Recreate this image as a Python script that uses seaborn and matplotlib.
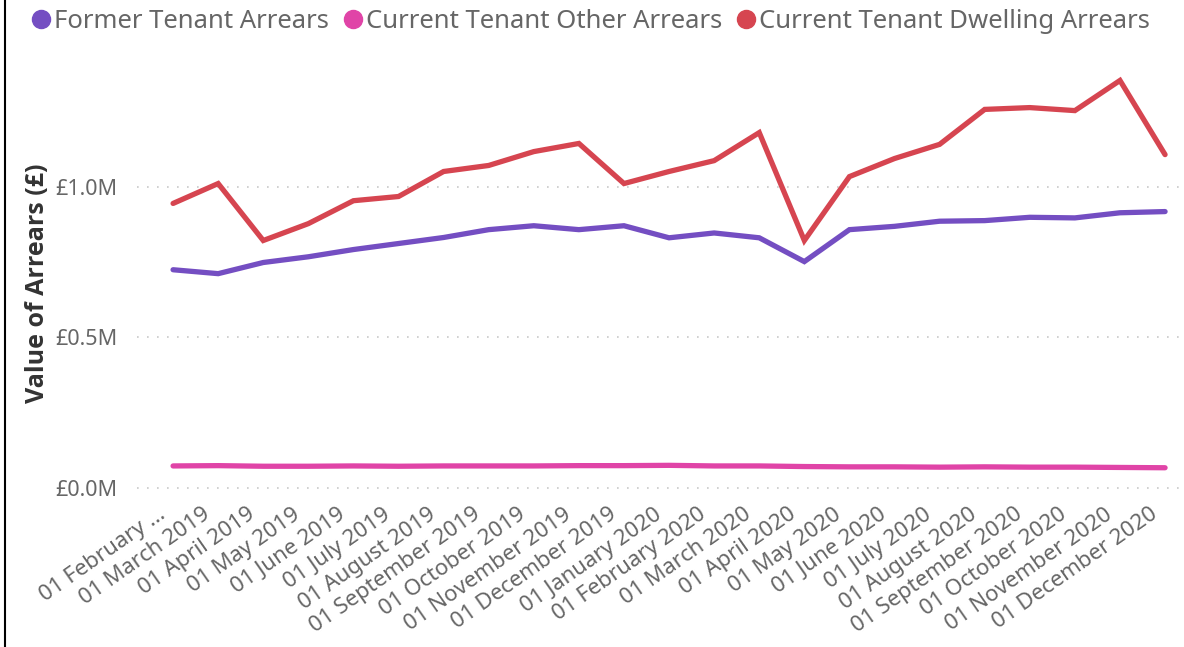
import numpy as np
import pandas as pd
import matplotlib
matplotlib.use("Agg")
import matplotlib.pyplot as plt
import matplotlib.transforms as mtransforms
from matplotlib.lines import Line2D
import seaborn as sns

months = ["01 February …", "01 March 2019", "01 April 2019", "01 May 2019", "01 June 2019",
          "01 July 2019", "01 August 2019", "01 September 2019", "01 October 2019",
          "01 November 2019", "01 December 2019", "01 January 2020", "01 February 2020",
          "01 March 2020", "01 April 2020", "01 May 2020", "01 June 2020", "01 July 2020",
          "01 August 2020", "01 September 2020", "01 October 2020", "01 November 2020",
          "01 December 2020"]

former = [0.724, 0.711, 0.748, 0.767, 0.791, 0.811, 0.831, 0.857, 0.870, 0.857, 0.870,
          0.830, 0.846, 0.830, 0.751, 0.857, 0.868, 0.885, 0.887, 0.898, 0.896, 0.913, 0.917]
other = [0.073, 0.074, 0.072, 0.072, 0.073, 0.072, 0.073, 0.073, 0.073, 0.074, 0.074,
         0.075, 0.073, 0.073, 0.071, 0.070, 0.070, 0.069, 0.070, 0.069, 0.069, 0.068, 0.067]
dwelling = [0.944, 1.010, 0.821, 0.877, 0.953, 0.967, 1.050, 1.070, 1.116, 1.143, 1.010,
            1.050, 1.086, 1.179, 0.821, 1.033, 1.093, 1.140, 1.256, 1.262, 1.252, 1.352, 1.106]

series_names = ["Former Tenant Arrears", "Current Tenant Other Arrears", "Current Tenant Dwelling Arrears"]
colors = ["#744EC2", "#E044A7", "#D64550"]

rows = []
for name, vals in zip(series_names, [former, other, dwelling]):
    for i, v in enumerate(vals):
        rows.append({"idx": i, "value": v, "series": name})
df = pd.DataFrame(rows)

sns.set_theme(style="white")
plt.rcParams['font.family'] = ['Noto Sans', 'DejaVu Sans']

fig = plt.figure(figsize=(11.84, 6.47), dpi=100)
ax = fig.add_axes([137/1184, 1 - 500/647, (1184 - 137)/1184, (500 - 66)/647])

sns.lineplot(data=df, x="idx", y="value", hue="series", hue_order=series_names,
             palette=colors, linewidth=3.8, ax=ax, legend=False,
             solid_capstyle="round", solid_joinstyle="miter")

ax.set_xlim(-0.8, 22.42)
ax.set_ylim(-0.04, 1.4)
ax.set_yticks([0, 0.5, 1.0])
ax.set_yticklabels(["£0.0M", "£0.5M", "£1.0M"], color="#666666", fontsize=15.5)
ax.yaxis.grid(True, linestyle=(0, (1, 5)), color="#c8c8c8", linewidth=1.2)
ax.xaxis.grid(False)
for s in ax.spines.values():
    s.set_visible(False)
ax.tick_params(axis="y", length=0, pad=14)
ax.tick_params(axis="x", length=0, pad=2)
ax.set_xticks(range(len(months)))
ax.set_xticklabels(months, rotation=35, ha="right", va="top", rotation_mode="anchor",
                   color="#666666", fontsize=16)
offset = mtransforms.ScaledTranslation(-16/100, -1/100, fig.dpi_scale_trans)
for lbl in ax.get_xticklabels():
    lbl.set_transform(lbl.get_transform() + offset)
ax.set_xlabel("")
ax.set_ylabel("Value of Arrears (£)", fontsize=18, fontweight="bold", color="#333333",
              labelpad=4, family=["Open Sans", "DejaVu Sans"])

handles = [Line2D([], [], marker="o", linestyle="", markersize=13, color=c) for c in colors]
fig.legend(handles, series_names, loc="upper left", bbox_to_anchor=(10/1184, 1.01),
           ncol=3, frameon=False, fontsize=18.5, handletextpad=-0.1, columnspacing=0.35,
           labelcolor="#666666", borderaxespad=0.2, handlelength=1.2)

fig.add_artist(Line2D([5/1184, 5/1184], [0, 1], color="black", linewidth=1.5))

fig.savefig("out.png", dpi=100)
